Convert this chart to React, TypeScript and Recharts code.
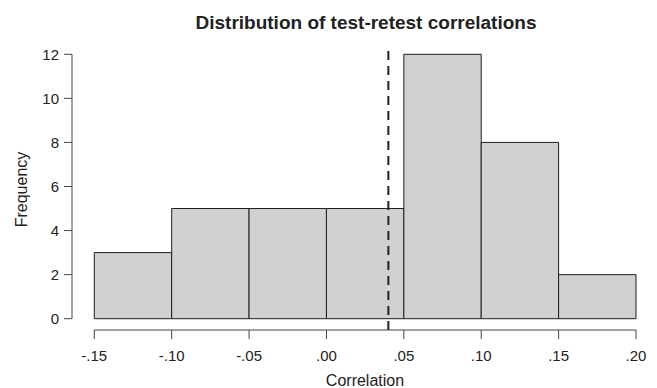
import React from "react";
import {
  ComposedChart,
  Line,
  XAxis,
  YAxis,
  ReferenceArea,
  ReferenceLine,
} from "recharts";

const binEdges = [-0.15, -0.1, -0.05, 0.0, 0.05, 0.1, 0.15, 0.2];
const binCounts = [3, 5, 5, 5, 12, 8, 2];
const yTicks = [0, 2, 4, 6, 8, 10, 12];
const meanCorrelation = 0.04;

const FONT = "'Liberation Sans', Arial, Helvetica, sans-serif";
const BAR_FILL = "#d0d2d1";
const BAR_STROKE = "#1e1e1e";
const AXIS_STROKE = "#444";
const TEXT = "#222";

// domains padded so the axes sit apart from the bars, like base R plots
const X_DOMAIN: [number, number] = [-0.1644, 0.2];
const Y_DOMAIN: [number, number] = [-0.513, 12.24];

const bins = binCounts.map((count, i) => ({
  lo: binEdges[i],
  hi: binEdges[i + 1],
  mid: (binEdges[i] + binEdges[i + 1]) / 2,
  count,
}));

const formatCorr = (v: number) => {
  const r = Math.round(v * 100) / 100;
  const s = Math.abs(r).toFixed(2).replace(/^0/, "");
  return r < 0 ? `-${s}` : s;
};

export default function App() {
  return (
    <div style={{ position: "fixed", left: 0, top: 0, width: 657, height: 388, overflow: "hidden", background: "#fff" }}>
      <div
        style={{
          position: "absolute",
          left: 66,
          top: 13,
          width: 600,
          textAlign: "center",
          fontFamily: FONT,
          fontWeight: "bold",
          fontSize: 19,
          lineHeight: "19px",
          color: TEXT,
        }}
      >
        Distribution of test-retest correlations
      </div>
      <ComposedChart
        width={657}
        height={388}
        data={bins}
        margin={{ top: 49, right: 21, bottom: 0, left: 0 }}
      >
        <XAxis
          dataKey="mid"
          type="number"
          domain={X_DOMAIN}
          allowDataOverflow
          ticks={binEdges}
          interval={0}
          tickFormatter={formatCorr}
          height={58}
          axisLine={false}
          tickLine={{ stroke: AXIS_STROKE }}
          tickSize={9}
          tickMargin={11}
          tick={{ fill: TEXT, fontSize: 15, fontFamily: FONT }}
          label={{
            value: "Correlation",
            position: "insideBottom",
            offset: 2,
            dx: 11,
            fill: TEXT,
            fontSize: 16,
            fontFamily: FONT,
          }}
        />
        <YAxis
          type="number"
          domain={Y_DOMAIN}
          allowDataOverflow
          ticks={yTicks}
          interval={0}
          width={72}
          axisLine={false}
          tickLine={{ stroke: AXIS_STROKE }}
          tickSize={8}
          tickMargin={5}
          tick={{ fill: TEXT, fontSize: 15, fontFamily: FONT }}
          label={{
            value: "Frequency",
            angle: -90,
            position: "insideLeft",
            offset: 21,
            fill: TEXT,
            fontSize: 16,
            fontFamily: FONT,
            style: { textAnchor: "middle" },
          }}
        />

        {bins.map((b, i) => (
          <ReferenceArea
            key={`bin-${i}`}
            x1={b.lo}
            x2={b.hi}
            y1={0}
            y2={b.count}
            fill={BAR_FILL}
            fillOpacity={1}
            stroke={BAR_STROKE}
            strokeWidth={1}
            ifOverflow="visible"
          />
        ))}

        {/* R-style detached axis lines spanning only the tick range */}
        <ReferenceLine
          segment={[
            { x: binEdges[0], y: Y_DOMAIN[0] },
            { x: binEdges[binEdges.length - 1], y: Y_DOMAIN[0] },
          ]}
          stroke={AXIS_STROKE}
          strokeWidth={1}
          ifOverflow="visible"
        />
        <ReferenceLine
          segment={[
            { x: X_DOMAIN[0], y: yTicks[0] },
            { x: X_DOMAIN[0], y: yTicks[yTicks.length - 1] },
          ]}
          stroke={AXIS_STROKE}
          strokeWidth={1}
          ifOverflow="visible"
        />

        <ReferenceLine
          x={meanCorrelation}
          stroke={TEXT}
          strokeWidth={2}
          strokeDasharray="9 6"
          ifOverflow="visible"
        />

        <Line
          dataKey="count"
          stroke="none"
          dot={false}
          activeDot={false}
          legendType="none"
          isAnimationActive={false}
        />
      </ComposedChart>
    </div>
  );
}
